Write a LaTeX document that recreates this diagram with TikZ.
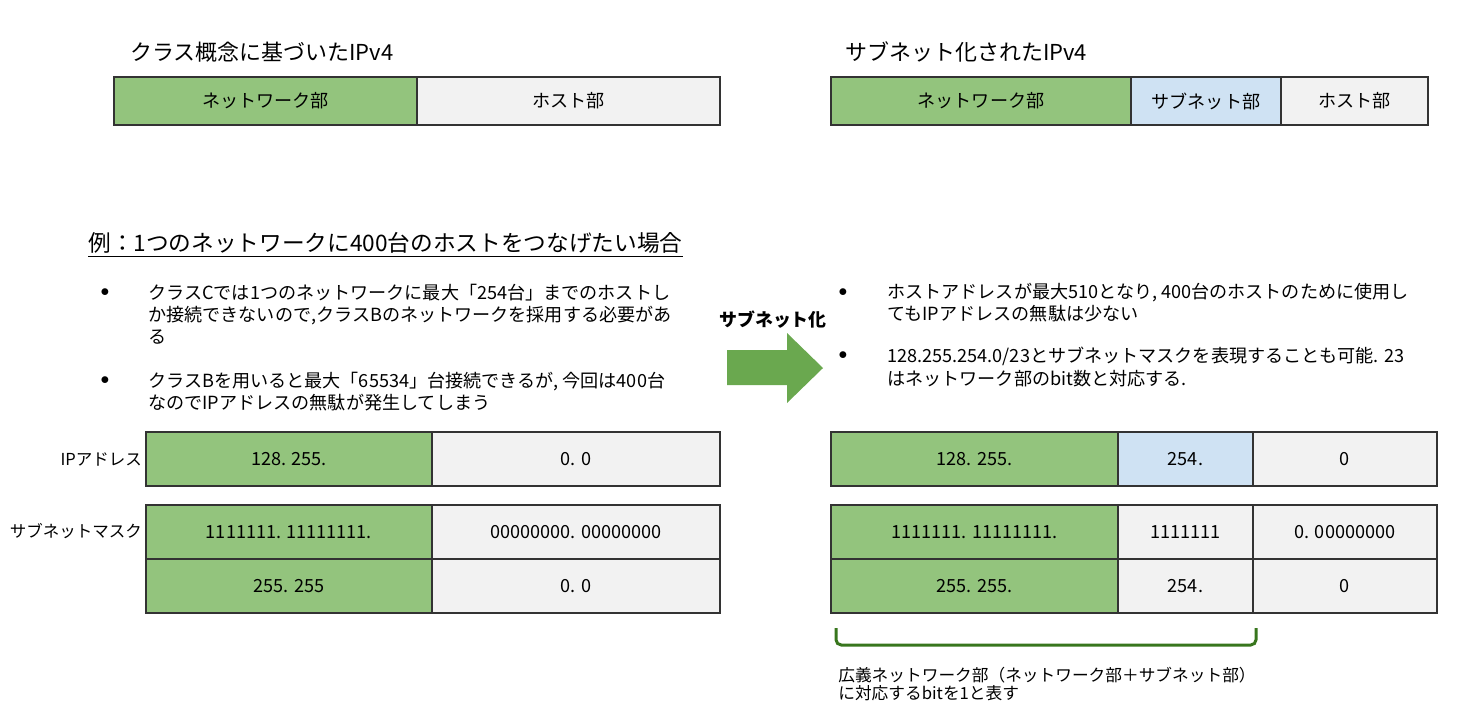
\documentclass[tikz,border=0pt]{standalone}
\usepackage{fontspec}
\setmainfont{Noto Sans CJK JP}
\usetikzlibrary{positioning}
\definecolor{netGreen}{HTML}{93C47D}
\definecolor{subBlue}{HTML}{CFE2F3}
\definecolor{hostGray}{HTML}{F2F2F2}
\definecolor{arrowGreen}{HTML}{6AA84F}
\definecolor{braceGreen}{HTML}{38761D}
\definecolor{lineDark}{HTML}{333333}

\begin{document}
\begin{tikzpicture}[
  x=0.02cm, y=-0.02cm,
  every node/.style={font=\fontsize{10.3}{12.6}\selectfont, text=black},
  cell/.style={
    rectangle, draw=lineDark, line width=0.9pt,
    outer sep=0pt, inner sep=0pt, fill=#1
  },
  topcell/.style={cell=#1, minimum height=0.96cm},
  rowcell/.style={cell=#1, minimum height=1.08cm},
  titletext/.style={anchor=west, inner sep=0pt, font=\fontsize{12.5}{15}\selectfont},
  bulletdot/.style={inner sep=0pt},
  bullettext/.style={anchor=west, inner sep=0pt, align=left},
  sidelabel/.style={anchor=east, inner sep=1pt, font=\fontsize{9.4}{11}\selectfont},
]
\useasboundingbox (0,0) rectangle (1466,718);

% === CLASS BASED IPv4 ===
\node[titletext] (ttlclass) at (130,52) {クラス概念に基づいたIPv4};
\node[topcell=netGreen, minimum width=6.06cm, anchor=north west] (tlnet) at (114,77) {ネットワーク部};
\node[topcell=hostGray, minimum width=6.06cm, right=0pt of tlnet] (tlhost) {ホスト部};

% === SUBNETTED IPv4 ===
\node[titletext] (ttlsub) at (845,52) {サブネット化されたIPv4};
\node[topcell=netGreen, minimum width=6.0cm, anchor=north west] (trnet) at (831,77) {ネットワーク部};
\node[topcell=subBlue, minimum width=3.0cm, right=0pt of trnet] (trsub) {サブネット部};
\node[topcell=hostGray, minimum width=2.94cm, right=0pt of trsub] (trhost) {ホスト部};

% === EXAMPLE ===
\node[anchor=west, inner sep=0pt, font=\fontsize{12.9}{16}\selectfont] (example) at (88,245)
  {\underline{例：1つのネットワークに400台のホストをつなげたい場合}};

% left bullets
\node[bulletdot] (dotl1) at (105,293) {$\bullet$};
\node[bullettext] (txtl1) at (148,314) {
  クラスCでは1つのネットワークに最大「254台」までのホストし\\
  か接続できないので,クラスBのネットワークを採用する必要があ\\
  る};
\node[bulletdot] (dotl2) at (105,381) {$\bullet$};
\node[bullettext] (txtl2) at (148,392) {
  クラスBを用いると最大「65534」台接続できるが, 今回は400台\\
  なのでIPアドレスの無駄が発生してしまう};

% right bullets
\node[bulletdot] (dotr1) at (843,293) {$\bullet$};
\node[bullettext] (txtr1) at (887,303) {
  ホストアドレスが最大510となり, 400台のホストのために使用し\\
  てもIPアドレスの無駄は少ない};
\node[bulletdot] (dotr2) at (843,356) {$\bullet$};
\node[bullettext] (txtr2) at (887,367) {
  128.255.254.0/23とサブネットマスクを表現することも可能. 23\\
  はネットワーク部のbit数と対応する.};

% === SUBNETTING ARROW ===
\node[font=\fontsize{10.2}{12}\selectfont\bfseries] (arrlabel) at (773,320) {サブネット化};
\fill[arrowGreen] (727,350) -- (787,350) -- (787,333) -- (823,368)
  -- (787,403) -- (787,385) -- (727,385) -- cycle;

% === LEFT TABLES ===
\node[sidelabel] (lblip) at (144,459) {IPアドレス};
\node[rowcell=netGreen, minimum width=5.72cm, anchor=north west] (ipl1) at (146,432) {128. 255.};
\node[rowcell=hostGray, minimum width=5.76cm, right=0pt of ipl1] (ipl2) {0. 0};

\node[sidelabel] (lblmask) at (144,531) {サブネットマスク};
\node[rowcell=netGreen, minimum width=5.72cm, anchor=north west] (mkl1) at (146,505) {1111111. 11111111.};
\node[rowcell=hostGray, minimum width=5.76cm, right=0pt of mkl1] (mkl2) {00000000. 00000000};
\node[rowcell=netGreen, minimum width=5.72cm, below=0pt of mkl1] (mkl3) {255. 255};
\node[rowcell=hostGray, minimum width=5.76cm, right=0pt of mkl3] (mkl4) {0. 0};

% === RIGHT TABLES ===
\node[rowcell=netGreen, minimum width=5.74cm, anchor=north west] (ipr1) at (831,432) {128. 255.};
\node[rowcell=subBlue, minimum width=2.7cm, right=0pt of ipr1] (ipr2) {254.};
\node[rowcell=hostGray, minimum width=3.68cm, right=0pt of ipr2] (ipr3) {0};

\node[rowcell=netGreen, minimum width=5.74cm, anchor=north west] (mkr1) at (831,505) {1111111. 11111111.};
\node[rowcell=hostGray, minimum width=2.7cm, right=0pt of mkr1] (mkr2) {1111111};
\node[rowcell=hostGray, minimum width=3.68cm, right=0pt of mkr2] (mkr3) {0. 00000000};
\node[rowcell=netGreen, minimum width=5.74cm, below=0pt of mkr1] (mkr4) {255. 255.};
\node[rowcell=hostGray, minimum width=2.7cm, right=0pt of mkr4] (mkr5) {254.};
\node[rowcell=hostGray, minimum width=3.68cm, right=0pt of mkr5] (mkr6) {0};

% bracket under network + subnet part
\draw[braceGreen, line width=1.7pt, rounded corners=3pt]
  (836,628) -- (836,645) -- (1256,645) -- (1256,628);
\node[anchor=west, inner sep=0pt, align=left, font=\fontsize{9.5}{10.8}\selectfont] (bracetext) at (838,684) {
  広義ネットワーク部（ネットワーク部＋サブネット部）\\
  に対応するbitを1と表す};

\end{tikzpicture}
\end{document}
